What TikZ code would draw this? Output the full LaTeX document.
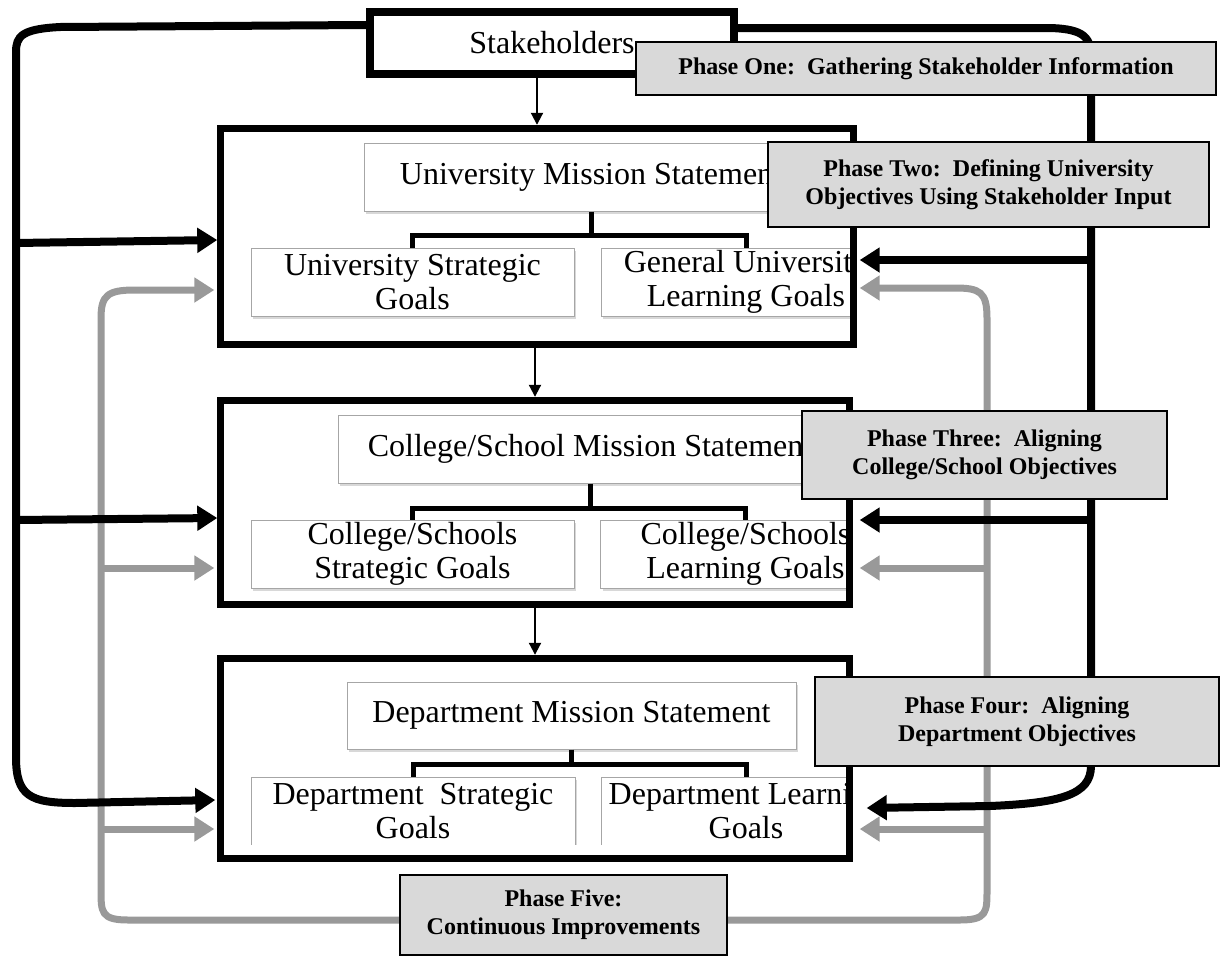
\documentclass[tikz,border=0pt]{standalone}
\usepackage{fontspec}
\setmainfont{Liberation Serif}
\usetikzlibrary{arrows.meta,shadows}
\pgfdeclarelayer{back}
\pgfsetlayers{back,main}
\definecolor{phasegray}{HTML}{D9D9D9}
\definecolor{cyclegray}{HTML}{999999}
\definecolor{boxline}{HTML}{A6A6A6}
\tikzset{
  stage/.style={fill=white,inner sep=0pt,minimum width=629pt},
  stageline/.style={line width=7pt},
  goalbox/.style={draw=boxline,line width=1pt,fill=white,inner sep=0pt,minimum height=68pt,align=center,
    font=\fontsize{32}{34}\selectfont,drop shadow={shadow xshift=2pt,shadow yshift=-3pt,opacity=0.3}},
  phasebox/.style={draw,line width=1.5pt,fill=phasegray,inner sep=0pt,align=center,
    font=\fontsize{24}{28}\selectfont\bfseries},
  branch/.style={line width=5pt},
  feedarrow/.style={line width=8pt,->},
  cyclearrow/.style={line width=7pt,cyclegray,->},
  stepdown/.style={line width=2pt,-{Triangle[length=12pt,width=12pt]},shorten >=3.5pt}
}
\begin{document}
\begin{tikzpicture}[x=1pt,y=-1pt,>={Triangle[length=20pt,width=24pt]}]
\useasboundingbox (0,0) rectangle (1221,959);

\node[draw,line width=8pt,minimum width=364pt,minimum height=62pt,inner sep=0pt,
  font=\fontsize{32}{36}\selectfont] (stake) at (552,43) {Stakeholders};

\node[stage,minimum width=633pt,minimum height=216pt] (univ) at (537,236.5) {};
\node[stage,minimum height=204pt] (coll) at (535,502.5) {};
\node[stage,minimum height=200pt] (dept) at (535,758.5) {};

\begin{scope}
  \clip (univ.south west) rectangle (univ.north east);
  \node[goalbox,minimum width=454pt] (umis) at (591,177) {University Mission Statement};
  \node[goalbox,minimum width=323pt] (ugl) at (412.5,282) {University Strategic\\Goals};
  \node[goalbox,minimum width=290pt] (ugr) at (746,282) {General University\\Learning Goals};
\end{scope}
\begin{scope}
  \clip (coll.south west) rectangle (coll.north east);
  \node[goalbox,minimum width=504pt] (cmis) at (590,449) {College/School Mission Statement};
  \node[goalbox,minimum width=323pt] (cgl) at (412.5,554) {College/Schools\\Strategic Goals};
  \node[goalbox,minimum width=290pt] (cgr) at (745.5,554) {College/Schools\\Learning Goals};
\end{scope}
\begin{scope}
  \clip (dept.north west) rectangle (dept.east |- 0,844);
  \node[goalbox,minimum width=449pt,minimum height=67pt] (dmis) at (571.5,715.5) {Department Mission Statement};
  \node[goalbox,minimum width=324pt] (dgl) at (413,811) {Department\ \ Strategic\\Goals};
  \node[goalbox,minimum width=290pt] (dgr) at (746,811) {Department Learning\\Goals};
\end{scope}

\draw[stageline] (univ.south west) rectangle (univ.north east);
\draw[stageline] (coll.south west) rectangle (coll.north east);
\draw[stageline] (dept.south west) rectangle (dept.north east);

\draw[branch] (umis.south) -- ++(0,24) coordinate (ujoin);
\draw[branch] (ugl.north) |- (ujoin) -| (ugr.north);
\draw[branch] (cmis.south) -- ++(0,25) coordinate (cjoin);
\draw[branch] (cgl.north) |- (cjoin) -| (cgr.north);
\draw[branch] (dmis.south) -- ++(0,15) coordinate (djoin);
\draw[branch] (dgl.north) |- (djoin) -| (dgr.north);

\draw[stepdown] (stake.south -| univ.north) -- (univ.north);
\draw[stepdown] (univ.south -| coll.north) -- (coll.north);
\draw[stepdown] (coll.south) -- (dept.north);

\node[phasebox,minimum width=580pt,minimum height=53pt] (p1) at (926,68.5)
  {Phase One:\ \ Gathering Stakeholder Information};
\node[phasebox,minimum width=441pt,minimum height=85pt] (p2) at (988.5,184.5)
  {Phase Two:\ \ Defining University\\Objectives Using Stakeholder Input};
\node[phasebox,minimum width=365pt,minimum height=88pt] (p3) at (984.5,455)
  {Phase Three:\ \ Aligning\\College/School Objectives};
\node[phasebox,minimum width=404pt,minimum height=89pt] (p4) at (1017,721.5)
  {Phase Four:\ \ Aligning\\Department Objectives};
\node[phasebox,minimum width=327pt,minimum height=80pt] (p5) at (563.5,915)
  {Phase Five:\\Continuous Improvements};

\coordinate (ug) at ([shift={(-6pt,-53.5pt)}]univ.west);
\coordinate (cg) at ([shift={(-6pt,-65.5pt)}]coll.west);
\coordinate (dg) at ([shift={(-6pt,-70.5pt)}]dept.west);
\coordinate (ugr-in) at ([shift={(6pt,-51.5pt)}]univ.east);
\coordinate (cgr-in) at ([shift={(10pt,-65.5pt)}]coll.east);
\coordinate (dgr-in) at ([shift={(10pt,-70.5pt)}]dept.east);
\coordinate (gl) at (101,0);
\coordinate (gr) at (987,0);

\coordinate (ub) at ([shift={(-3pt,-3.5pt)}]univ.west);
\coordinate (cb) at ([shift={(-3pt,-15.5pt)}]coll.west);
\coordinate (db) at ([shift={(-5pt,-41.5pt)}]dept.west);
\coordinate (ubr) at ([shift={(6pt,-23.5pt)}]univ.east);
\coordinate (cbr) at ([shift={(10pt,-17.5pt)}]coll.east);
\coordinate (dbr) at ([shift={(17pt,-49.5pt)}]dept.east);
\coordinate (bl) at (16,0);
\coordinate (br) at (1091,0);

\begin{pgfonlayer}{back}
\fill[white] (0,0) rectangle (1221,959);
\draw[cyclearrow] ([yshift=-5pt]p5.west) -- (128,920) .. controls (101,920) and (101,912) .. (101,890)
  -- (101,318) .. controls (101,295) and (108,290) .. (135,290) -- (ug);
\draw[cyclearrow] (gl |- cg) -- (cg);
\draw[cyclearrow] (gl |- dg) -- (dg);
\draw[cyclearrow] ([yshift=-5pt]p5.east) -- (960,920) .. controls (987,920) and (987,912) .. (987,890)
  -- (987,318) .. controls (987,292) and (980,288) .. (955,288) -- (ugr-in);
\draw[cyclearrow] (gr |- cgr-in) -- (cgr-in);
\draw[cyclearrow] (gr |- dgr-in) -- (dgr-in);

\draw[feedarrow] ([yshift=18pt]stake.west) -- (60,27) .. controls (22,29) and (16,36) .. (16,52)
  -- (16,757) .. controls (16,796) and (30,803) .. (75,803) -- (db);
\draw[feedarrow] (16,243) -- (ub);
\draw[feedarrow] (16,520) -- (cb);
\draw[feedarrow] ([yshift=15pt]stake.east) -- (1050,28) .. controls (1085,29) and (1091,38) .. (1091,58)
  -- (1091,766) .. controls (1091,795) and (1060,803) .. (990,806) -- (dbr);
\draw[feedarrow] (br |- ubr) -- (ubr);
\draw[feedarrow] (br |- cbr) -- (cbr);
\end{pgfonlayer}
\end{tikzpicture}
\end{document}
